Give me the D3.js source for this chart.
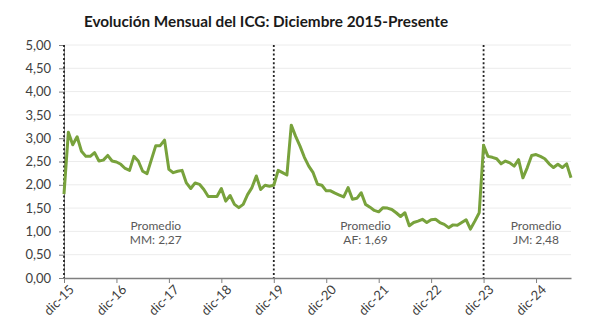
<!DOCTYPE html>
<html>
<head>
<meta charset="utf-8">
<script src="https://cdn.jsdelivr.net/npm/d3@7"></script>
<style>
  html, body { margin: 0; padding: 0; background: #fff; }
  svg { display: block; }
</style>
</head>
<body>
<svg id="chart" width="610" height="325"></svg>
<script>
const title = "Evolución Mensual del ICG: Diciembre 2015-Presente";
const monthNames = ["ene","feb","mar","abr","may","jun","jul","ago","sep","oct","nov","dic"];
const values = [
  1.80, 3.13, 2.86, 3.03, 2.72, 2.61, 2.61, 2.69, 2.51, 2.53, 2.63, 2.51,
  2.49, 2.44, 2.35, 2.31, 2.61, 2.51, 2.29, 2.24, 2.54, 2.84, 2.84, 2.96,
  2.33, 2.26, 2.29, 2.31, 2.04, 1.92, 2.04, 2.01, 1.90, 1.75, 1.75, 1.75,
  1.92, 1.65, 1.77, 1.58, 1.51, 1.58, 1.79, 1.94, 2.19, 1.90, 1.99, 1.97,
  1.99, 2.31, 2.26, 2.21, 3.28, 3.04, 2.83, 2.59, 2.40, 2.26, 2.01, 1.99,
  1.87, 1.87, 1.82, 1.78, 1.74, 1.94, 1.69, 1.71, 1.83, 1.58, 1.52, 1.45,
  1.42, 1.51, 1.50, 1.47, 1.40, 1.32, 1.40, 1.12, 1.19, 1.22, 1.26, 1.19,
  1.25, 1.26, 1.19, 1.15, 1.08, 1.14, 1.13, 1.19, 1.25, 1.05, 1.22, 1.40,
  2.85, 2.61, 2.59, 2.56, 2.45, 2.51, 2.47, 2.40, 2.54, 2.15, 2.37, 2.63,
  2.65, 2.61, 2.56, 2.45, 2.37, 2.44, 2.37, 2.45, 2.15
];
// categories: monthly, starting dic-15
const categories = values.map((v, i) => {
  const m = (11 + i) % 12;
  const yr = 15 + Math.floor((11 + i) / 12);
  return monthNames[m] + "-" + yr;
});
const tickLabels = ["dic-15","dic-16","dic-17","dic-18","dic-19","dic-20","dic-21","dic-22","dic-23","dic-24"];
const yTicks = [0, 0.5, 1, 1.5, 2, 2.5, 3, 3.5, 4, 4.5, 5];
const periodStarts = ["dic-15", "dic-19", "dic-23"];
const avgLabels = ["MM: 2,27", "AF: 1,69", "JM: 2,48"];
const avgAnchors = ["sep-17", "sep-21", "dic-24"];

const svg = d3.select("#chart");
const mLeft = 64, mRight = 571, mTop = 45, mBottom = 278;

const x = d3.scalePoint().domain(categories).range([mLeft, mRight]);
const y = d3.scaleLinear().domain([0, 5]).range([mBottom, mTop]);
const fmt = v => d3.format(".2f")(v).replace(".", ",");

// title
svg.append("text")
  .attr("x", 266).attr("y", 27)
  .attr("text-anchor", "middle")
  .attr("font-family", "Lato, 'Open Sans', sans-serif")
  .attr("font-weight", "bold")
  .attr("font-size", 15.3)
  .attr("fill", "#1a1a1a")
  .text(title);

// gridlines
svg.append("g")
  .selectAll("line")
  .data(yTicks.filter(d => d > 0))
  .join("line")
  .attr("x1", mLeft).attr("x2", mRight)
  .attr("y1", d => y(d)).attr("y2", d => y(d))
  .attr("stroke", "#ececec").attr("stroke-width", 1);

// y axis
const yAxis = svg.append("g")
  .attr("transform", `translate(${mLeft},0)`)
  .call(d3.axisLeft(y).tickValues(yTicks).tickFormat(fmt).tickSize(5).tickPadding(8));
yAxis.select(".domain").attr("stroke", "#7f7f7f");
yAxis.selectAll(".tick line").attr("stroke", "#7f7f7f");
yAxis.selectAll("text")
  .attr("font-family", "Lato, 'Open Sans', sans-serif")
  .attr("font-size", 13)
  .attr("fill", "#404040");

// x axis
const xAxis = svg.append("g")
  .attr("transform", `translate(0,${mBottom})`)
  .call(d3.axisBottom(x).tickValues(tickLabels).tickSize(5).tickSizeOuter(0));
xAxis.select(".domain").attr("stroke", "#7f7f7f").attr("stroke-width", 1.3);
xAxis.selectAll(".tick line").attr("stroke", "#7f7f7f");
xAxis.selectAll("text")
  .attr("font-family", "Lato, 'Open Sans', sans-serif")
  .attr("font-size", 13)
  .attr("fill", "#404040")
  .attr("text-anchor", "end")
  .attr("transform", "translate(4,6) rotate(-45)")
  .attr("dy", "0.7em")
  .attr("y", 0);

// dotted period separators
svg.append("g")
  .selectAll("line")
  .data(periodStarts)
  .join("line")
  .attr("x1", d => x(d)).attr("x2", d => x(d))
  .attr("y1", mTop).attr("y2", mBottom)
  .attr("stroke", "#222").attr("stroke-width", 1.8)
  .attr("stroke-dasharray", "2,2.3");

// line
const line = d3.line()
  .x((d, i) => x(categories[i]))
  .y(d => y(d));
svg.append("path")
  .datum(values)
  .attr("d", line)
  .attr("fill", "none")
  .attr("stroke", "#78a23c")
  .attr("stroke-width", 3)
  .attr("stroke-linejoin", "round");

// average annotations
const ann = svg.append("g")
  .attr("font-family", "Lato, 'Open Sans', sans-serif")
  .attr("font-size", 12)
  .attr("fill", "#595959")
  .attr("text-anchor", "middle");
avgLabels.forEach((lab, i) => {
  const cx = x(avgAnchors[i]);
  ann.append("text").attr("x", cx).attr("y", y(1.04)).text("Promedio");
  ann.append("text").attr("x", cx).attr("y", y(0.72)).text(lab);
});
</script>
</body>
</html>
